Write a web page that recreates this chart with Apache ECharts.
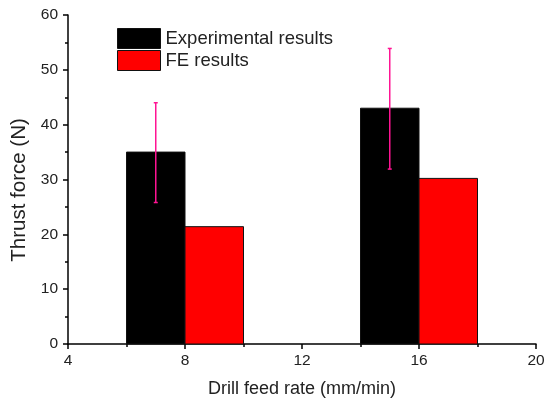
<!DOCTYPE html>
<html>
<head>
<meta charset="utf-8">
<script src="https://cdn.jsdelivr.net/npm/echarts@6/dist/echarts.min.js"></script>
<style>
  html, body { margin: 0; padding: 0; background: #fff; }
  #chart { width: 544px; height: 399px; }
</style>
</head>
<body>
<div id="chart"></div>
<script>
// feed rates (mm/min) and bar values
var feedRates = [8, 16];
var expValues = [35, 43];
var feValues = [21.4, 30.2];
// error bar limits for experimental results
var expLow = [25.8, 31.9];
var expHigh = [44, 53.9];
var barHalf = 1; // bar width in axis units / 2

var myChart = echarts.init(document.getElementById('chart'));

function barItem(offset, color) {
    return function (params, api) {
        var x = api.value(0) + offset;
        var p1 = api.coord([x - barHalf, api.value(1)]);
        var p2 = api.coord([x + barHalf, 0]);
        return {
            type: 'rect',
            shape: { x: p1[0], y: p1[1], width: p2[0] - p1[0], height: p2[1] - p1[1] },
            style: { fill: color, stroke: '#111', lineWidth: 1 }
        };
    };
}

var expData = feedRates.map(function (f, i) { return [f, expValues[i]]; });
var feData = feedRates.map(function (f, i) { return [f, feValues[i]]; });
var errData = feedRates.map(function (f, i) { return [f - barHalf, expLow[i], expHigh[i]]; });

var font = 'Liberation Sans';

var option = {
    animation: false,
    grid: { left: 68, right: 8, top: 15, bottom: 55, outerBoundsMode: 'none' },
    legend: {
        orient: 'vertical',
        left: 117,
        top: 28,
        padding: 0,
        itemWidth: 43,
        itemHeight: 20,
        itemGap: 1,
        textStyle: { fontFamily: font, fontSize: 18.5, color: '#222', lineHeight: 20 },
        data: [
            { name: 'Experimental results', icon: 'rect', itemStyle: { color: '#000', borderColor: '#111', borderWidth: 1 } },
            { name: 'FE results', icon: 'rect', itemStyle: { color: '#ff0000', borderColor: '#111', borderWidth: 1 } }
        ]
    },
    xAxis: {
        type: 'value',
        min: 4, max: 20, interval: 4,
        name: 'Drill feed rate (mm/min)',
        nameLocation: 'middle',
        nameGap: 36,
        nameTextStyle: { fontFamily: font, fontSize: 18, color: '#222' },
        axisLine: { show: true, lineStyle: { color: '#000', width: 1.5 } },
        axisTick: { show: true, length: 5, lineStyle: { color: '#000', width: 1.5 } },
        minorTick: { show: true, splitNumber: 2, length: 3, lineStyle: { color: '#000', width: 1.5 } },
        axisLabel: { fontFamily: font, fontSize: 15.5, color: '#222', margin: 9 },
        splitLine: { show: false }
    },
    yAxis: {
        type: 'value',
        min: 0, max: 60, interval: 10,
        name: 'Thrust force (N)',
        nameLocation: 'middle',
        nameGap: 29,
        nameTextStyle: { fontFamily: font, fontSize: 20.5, color: '#222', padding: [0, 21, 0, 0] },
        axisLine: { show: true, lineStyle: { color: '#000', width: 1.5 } },
        axisTick: { show: true, length: 5, lineStyle: { color: '#000', width: 1.5 } },
        minorTick: { show: true, splitNumber: 2, length: 3, lineStyle: { color: '#000', width: 1.5 } },
        axisLabel: { fontFamily: font, fontSize: 15.5, color: '#222', margin: 10 },
        splitLine: { show: false }
    },
    series: [
        {
            name: 'Experimental results',
            type: 'custom',
            itemStyle: { color: '#000' },
            renderItem: barItem(-barHalf, '#000'),
            encode: { x: 0, y: 1 },
            data: expData,
            z: 2
        },
        {
            name: 'FE results',
            type: 'custom',
            itemStyle: { color: '#ff0000' },
            renderItem: barItem(barHalf, '#ff0000'),
            encode: { x: 0, y: 1 },
            data: feData,
            z: 2
        },
        {
            name: 'error',
            type: 'custom',
            renderItem: function (params, api) {
                var lo = api.coord([api.value(0), api.value(1)]);
                var hi = api.coord([api.value(0), api.value(2)]);
                var c = 2;
                var st = { stroke: '#ff1493', lineWidth: 1.5 };
                return {
                    type: 'group',
                    children: [
                        { type: 'line', shape: { x1: lo[0], y1: lo[1], x2: hi[0], y2: hi[1] }, style: st },
                        { type: 'line', shape: { x1: hi[0] - c, y1: hi[1], x2: hi[0] + c, y2: hi[1] }, style: st },
                        { type: 'line', shape: { x1: lo[0] - c, y1: lo[1], x2: lo[0] + c, y2: lo[1] }, style: st }
                    ]
                };
            },
            encode: { x: 0, y: [1, 2] },
            data: errData,
            z: 3
        }
    ]
};

myChart.setOption(option);
</script>
</body>
</html>
